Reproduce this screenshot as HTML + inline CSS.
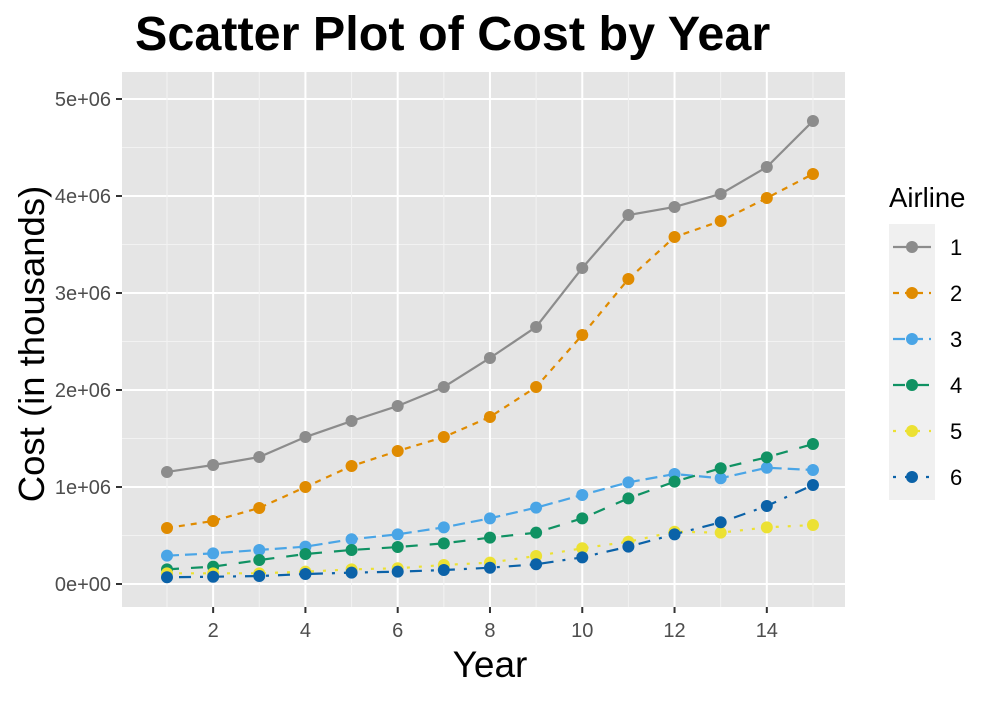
<!DOCTYPE html>
<html><head><meta charset="utf-8"><style>
body{margin:0;background:#fff;font-family:"Liberation Sans",Arial,sans-serif}
</style></head><body>
<svg width="1000" height="700" xmlns="http://www.w3.org/2000/svg">
<text x="135" y="50" font-size="48.5" font-weight="bold" fill="#000">Scatter Plot of Cost by Year</text>
<rect x="122" y="72" width="723" height="535" fill="#e5e5e5"/>
<g id="grid"></g>
<g id="axes"></g>
<g id="series"></g>
<text x="490" y="677" font-size="37" text-anchor="middle">Year</text>
<text transform="translate(44,344) rotate(-90)" font-size="36.5" text-anchor="middle">Cost (in thousands)</text>
<text x="889" y="207" font-size="27.5">Airline</text>
<rect x="889" y="224" width="46" height="276" fill="#f0f0f0"/>
<g id="legend"></g>
</svg>
<script>
const years=[1,2,3,4,5,6,7,8,9,10,11,12,13,14,15];
const s1=[1.155,1.227,1.309,1.515,1.68,1.835,2.031,2.33,2.65,3.258,3.804,3.887,4.021,4.299,4.773];
const s2=[0.577,0.65,0.784,1.0,1.216,1.371,1.515,1.722,2.031,2.567,3.144,3.577,3.742,3.979,4.227];
const s3=[0.292,0.316,0.351,0.385,0.461,0.512,0.584,0.677,0.787,0.918,1.048,1.134,1.09,1.199,1.175];
const s4=[0.151,0.179,0.247,0.309,0.351,0.381,0.419,0.478,0.529,0.677,0.883,1.055,1.193,1.306,1.443];
const s5=[0.11,0.11,0.11,0.127,0.151,0.162,0.196,0.22,0.289,0.368,0.436,0.539,0.529,0.584,0.608];
const s6=[0.069,0.075,0.082,0.103,0.117,0.127,0.144,0.168,0.203,0.275,0.385,0.512,0.636,0.804,1.021];
const seriesNames=["1","2","3","4","5","6"];
const yTicks=[0,1,2,3,4,5];
const yTickLabels=["0e+00","1e+06","2e+06","3e+06","4e+06","5e+06"];
const xTicks=[2,4,6,8,10,12,14];
const NS="http://www.w3.org/2000/svg";
const xs=v=>167+(v-1)*46.14;
const ys=v=>584-v*97;
function mk(tag,attrs,parent){const e=document.createElementNS(NS,tag);for(const k in attrs)e.setAttribute(k,attrs[k]);parent.appendChild(e);return e;}
const grid=document.getElementById('grid'),axes=document.getElementById('axes'),ser=document.getElementById('series'),leg=document.getElementById('legend');
for(let i=0;i<yTicks.length;i++){const y=ys(yTicks[i]);
 const l=mk('line',{x1:122,x2:845,y1:y,y2:y,stroke:'#fff','stroke-width':2},grid);
 
 if(i<yTicks.length-1){const m=mk('line',{x1:122,x2:845,y1:ys(yTicks[i]+0.5),y2:ys(yTicks[i]+0.5),stroke:'#f2f2f2','stroke-width':1},grid);
 }
 mk('line',{x1:116,x2:122,y1:y,y2:y,stroke:'#333','stroke-width':2},axes);
 const t=mk('text',{x:111,y:y+7,'font-size':20,'text-anchor':'end',fill:'#4d4d4d'},axes);t.textContent=yTickLabels[i];
 }
for(let v=1;v<=15;v+=2){const m=mk('line',{x1:xs(v),x2:xs(v),y1:72,y2:607,stroke:'#f2f2f2','stroke-width':1},grid);
 }
for(const v of xTicks){const x=xs(v);
 const l=mk('line',{x1:x,x2:x,y1:72,y2:607,stroke:'#fff','stroke-width':2},grid);
 
 mk('line',{x1:x,x2:x,y1:607,y2:613,stroke:'#333','stroke-width':2},axes);
 const t=mk('text',{x:x,y:637,'font-size':20,'text-anchor':'middle',fill:'#4d4d4d'},axes);t.textContent=v;
 }
const all=[s1,s2,s3,s4,s5,s6];
const colors=["#8c8c8c","#e08b00","#4aa5e6","#109263","#ece133","#0b62a8"];
const dashes=["","6 6","12 6","12 12","3 9","3 9 12 9"];
all.forEach((d,k)=>{const g=mk('g',{},ser);
 
 const p=mk('polyline',{points:d.map((v,i)=>xs(years[i])+','+ys(v)).join(' '),fill:'none',stroke:colors[k],'stroke-width':2.2,'stroke-dasharray':dashes[k]},g);
 
 d.forEach((v,i)=>{const c=mk('circle',{cx:xs(years[i]),cy:ys(v),r:6,fill:colors[k]},g);
 });
 const ly=247+k*46;
 const lg=mk('g',{},leg);
 mk('line',{x1:893,x2:931,y1:ly,y2:ly,stroke:colors[k],'stroke-width':2.2,'stroke-dasharray':dashes[k]},lg);
 mk('circle',{cx:912,cy:ly,r:6,fill:colors[k]},lg);
 const t=mk('text',{x:950,y:ly+8,'font-size':22},lg);t.textContent=seriesNames[k];});
</script>
</body></html>
